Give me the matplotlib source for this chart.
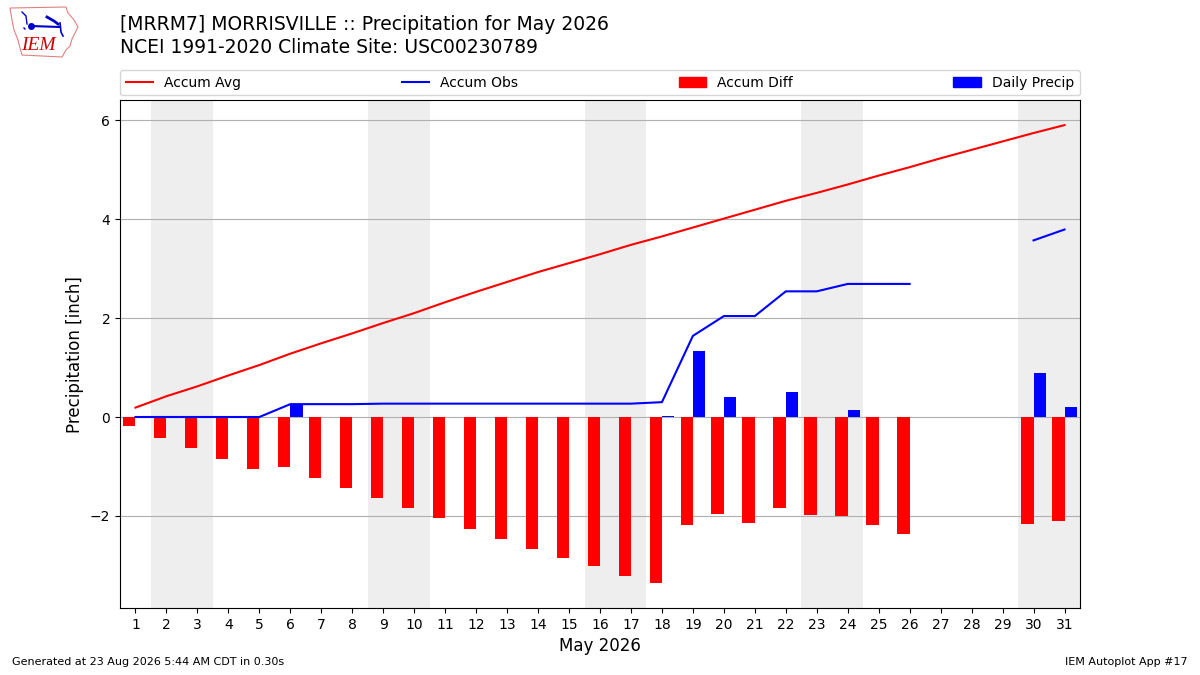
import datetime
import numpy as np
import matplotlib
matplotlib.use("Agg")
import matplotlib.pyplot as plt
from matplotlib.patches import Patch, Polygon
from matplotlib.lines import Line2D

# values (inches), days 1..31 of May 2026
days = np.arange(1, 32)
accum_avg = [0.19, 0.42, 0.62, 0.84, 1.05, 1.28, 1.49, 1.69, 1.90, 2.10,
             2.32, 2.53, 2.73, 2.93, 3.11, 3.29, 3.48, 3.65, 3.83, 4.01,
             4.19, 4.37, 4.53, 4.70, 4.88, 5.05, 5.23, 5.40, 5.57, 5.74,
             5.90]
accum_obs = [0.0, 0.0, 0.0, 0.0, 0.0, 0.26, 0.26, 0.26, 0.27, 0.27,
             0.27, 0.27, 0.27, 0.27, 0.27, 0.27, 0.27, 0.30, 1.64, 2.04,
             2.04, 2.54, 2.54, 2.69, 2.69, 2.69, np.nan, np.nan, np.nan, 3.57,
             3.79]
daily_precip = [0.0, 0.0, 0.0, 0.0, 0.0, 0.26, 0.0, 0.0, 0.01, 0.0,
                0.0, 0.0, 0.0, 0.0, 0.0, 0.0, 0.0, 0.03, 1.34, 0.40,
                0.0, 0.50, 0.0, 0.15, 0.0, 0.0, np.nan, np.nan, np.nan, 0.88,
                0.21]

station = "[MRRM7] MORRISVILLE"
climo_site = "USC00230789"

accum_avg = np.array(accum_avg)
accum_obs = np.array(accum_obs)
accum_diff = accum_obs - accum_avg

fig = plt.figure(figsize=(12, 6.75), dpi=100)
ax = fig.add_axes([0.1, 0.0993, 0.8, 0.752])

# weekend shading
for d in days:
    if datetime.date(2026, 5, int(d)).weekday() >= 5:
        ax.axvspan(d - 0.5, d + 0.5, color="#EEEEEE", zorder=0, lw=0)

ax.bar(days, accum_diff, width=-0.4, align="edge", color="r", zorder=2)
ax.bar(days, daily_precip, width=0.4, align="edge", color="b", zorder=2)
ax.plot(days, accum_avg, color="r", lw=1.5, zorder=3)
ax.plot(days, accum_obs, color="b", lw=1.5, zorder=3)

ax.set_xlim(0.5, 31.5)
ax.set_ylim(-3.86, 6.40)
ax.set_xticks(days)
ax.set_yticks([-2, 0, 2, 4, 6])
ax.grid(axis="y", zorder=1)
ax.set_axisbelow(True)
ax.set_ylabel("Precipitation [inch]", fontsize=12)
ax.set_xlabel("May 2026", fontsize=12)
ax.tick_params(labelsize=10)

handles = [
    Line2D([], [], color="r", lw=1.5),
    Line2D([], [], color="b", lw=1.5),
    Patch(color="r"),
    Patch(color="b"),
]
labels = ["Accum Avg", "Accum Obs", "Accum Diff", "Daily Precip"]
ax.legend(handles, labels, loc="lower left", bbox_to_anchor=(0, 1.01, 1, 0.05),
          ncol=4, mode="expand", borderaxespad=0, fontsize=10)

fig.text(0.1, 0.964, f"{station} :: Precipitation for May 2026",
         fontsize=13.5, va="center")
fig.text(0.1, 0.929, f"NCEI 1991-2020 Climate Site: {climo_site}",
         fontsize=13.5, va="center")

fig.text(0.01, 0.015, "Generated at 23 Aug 2026 5:44 AM CDT in 0.30s",
         fontsize=8)
fig.text(0.99, 0.015, "IEM Autoplot App #17", fontsize=8, ha="right")

# rough IEM logo
lax = fig.add_axes([0, 1 - 65 / 675, 100 / 1200, 65 / 675])
lax.set_xlim(0, 100)
lax.set_ylim(65, 0)
lax.axis("off")
outline = [(10, 8), (66, 7), (68, 13), (74, 20), (78, 27), (75, 33),
           (72, 39), (70, 46), (66, 50), (62, 57), (22, 55), (20, 48),
           (18, 40), (14, 30), (12, 20)]
lax.add_patch(Polygon(outline, closed=True, fill=False, ec="#e08080", lw=0.8))
lax.plot([31, 60], [26, 27], color="#0000cc", lw=1.5)
lax.plot([31], [26], "o", color="#0000cc", ms=4)
lax.plot([22, 26, 27], [12, 16, 24], color="#0000cc", lw=1)
lax.plot([47, 54, 58], [17, 21, 24], color="#0000cc", lw=2)
lax.plot([60, 61, 63], [23, 32, 36], color="#0000cc", lw=1.2)
lax.plot([24, 25], [28, 29], color="#0000cc", lw=1)
lax.text(38, 45, "IEM", color="#cc0000", fontsize=14, family="Liberation Serif",
         style="italic", ha="center", va="center")

fig.savefig("out.png", dpi=100)
